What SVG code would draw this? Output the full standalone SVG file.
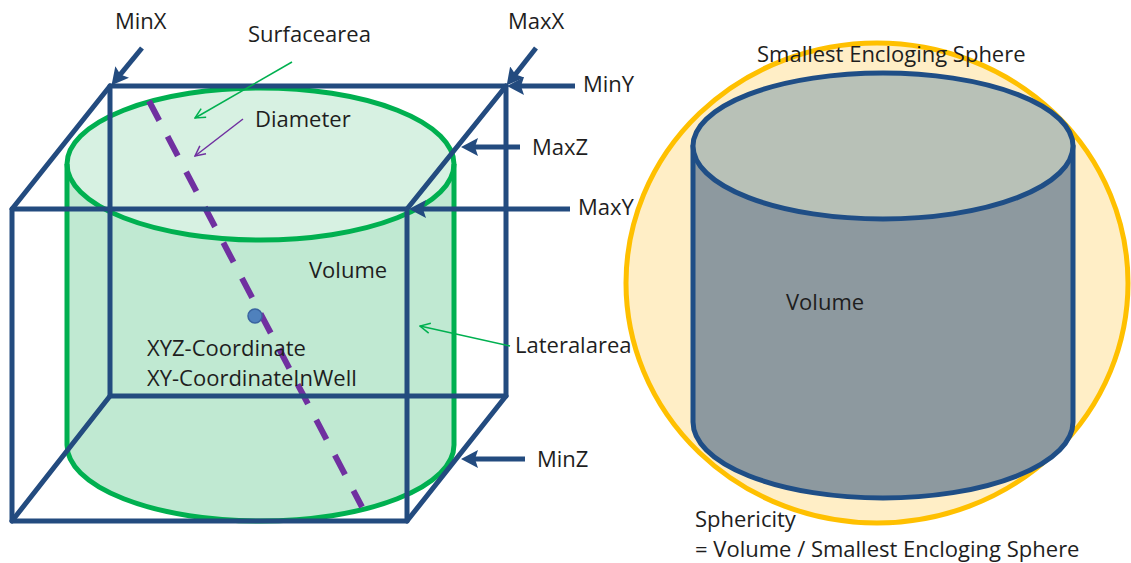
<svg xmlns="http://www.w3.org/2000/svg" width="1131" height="563" viewBox="0 0 1131 563">
  <style>
    text { font-family: "Open Sans", "Liberation Sans", sans-serif; font-size: 22px; fill: #1e1e1e; }
    .box { fill: none; stroke: #234b7f; stroke-width: 5; stroke-linecap: round; stroke-linejoin: round; }
    .lim { fill: none; stroke: #234b7f; stroke-width: 5; }
    .cyl { stroke: #00b050; stroke-width: 5; }
    .thin-g { fill: none; stroke: #00b050; stroke-width: 1.5; }
    .thin-p { fill: none; stroke: #7030a0; stroke-width: 1.5; }
    .diam { fill: none; stroke: #7030a0; stroke-width: 6; stroke-dasharray: 22 18; }
  </style>
  <defs>
    <marker id="headBlue" markerUnits="userSpaceOnUse" markerWidth="17" markerHeight="18" refX="6" refY="9" orient="auto">
      <path d="M0,0 L17,9 L0,18 L3,9 Z" fill="#234b7f"/>
    </marker>
    <marker id="headGreen" markerUnits="userSpaceOnUse" markerWidth="12" markerHeight="12" refX="11" refY="6" orient="auto">
      <path d="M1,1 L11,6 L1,11" fill="none" stroke="#00b050" stroke-width="1.5"/>
    </marker>
    <marker id="headPurple" markerUnits="userSpaceOnUse" markerWidth="12" markerHeight="12" refX="11" refY="6" orient="auto">
      <path d="M1,1 L11,6 L1,11" fill="none" stroke="#7030a0" stroke-width="1.5"/>
    </marker>
  </defs>

  <!-- left: cylinder inside its bounding box -->
  <g id="cylinder-left">
    <path d="M67,164 L67,445 A193.5,76 0 0 0 454,445 L454,164 Z" fill="#c0e9d2"/>
    <ellipse cx="260.5" cy="164" rx="193.5" ry="76" fill="#d7f1e2"/>
    <path class="cyl" fill="none" d="M67,164 L67,445 A193.5,76 0 0 0 454,445 L454,164"/>
    <ellipse class="cyl" fill="none" cx="260.5" cy="164" rx="193.5" ry="76"/>
  </g>

  <g id="diameter-line">
    <line class="diam" x1="149" y1="101" x2="362" y2="507"/>
  </g>

  <g id="centroid">
    <circle cx="255" cy="316" r="7" fill="#4f81bd" stroke="#3a64a0" stroke-width="1.5"/>
  </g>

  <g id="bounding-box">
    <rect class="box" x="110" y="86" width="396" height="310"/>
    <rect class="box" x="12" y="209" width="395" height="312"/>
    <line class="box" x1="12" y1="209" x2="110" y2="86"/>
    <line class="box" x1="407" y1="209" x2="506" y2="86"/>
    <line class="box" x1="12" y1="521" x2="110" y2="396"/>
    <line class="box" x1="407" y1="521" x2="506" y2="396"/>
  </g>

  <!-- connectors: limit arrows and label pointers -->
  <g id="connectors">
    <line class="lim" x1="142" y1="48" x2="118.5" y2="76.7" marker-end="url(#headBlue)"/>
    <line class="lim" x1="536" y1="48" x2="513.5" y2="76.7" marker-end="url(#headBlue)"/>
    <line class="lim" x1="575" y1="86" x2="518" y2="86" marker-end="url(#headBlue)"/>
    <line class="lim" x1="520" y1="147" x2="472" y2="147" marker-end="url(#headBlue)"/>
    <line class="lim" x1="570" y1="209" x2="420" y2="209" marker-end="url(#headBlue)"/>
    <line class="lim" x1="525" y1="459" x2="472" y2="459" marker-end="url(#headBlue)"/>
    <line class="thin-g" x1="292" y1="62" x2="195" y2="118" marker-end="url(#headGreen)"/>
    <line class="thin-p" x1="243" y1="119" x2="195" y2="156" marker-end="url(#headPurple)"/>
    <line class="thin-g" x1="510" y1="346" x2="420" y2="326" marker-end="url(#headGreen)"/>
  </g>

  <g id="labels-left">
    <text x="115" y="29">MinX</text>
    <text x="248" y="42">Surfacearea</text>
    <text x="508" y="29">MaxX</text>
    <text x="583" y="92">MinY</text>
    <text x="255" y="127">Diameter</text>
    <text x="532" y="155">MaxZ</text>
    <text x="578" y="215">MaxY</text>
    <text x="309" y="278">Volume</text>
    <text x="147" y="356">XYZ-Coordinate</text>
    <text x="147" y="386">XY-CoordinateInWell</text>
    <text x="515" y="353">Lateralarea</text>
    <text x="537" y="467">MinZ</text>
  </g>

  <!-- right: cylinder inside its enclosing sphere -->
  <g id="sphere">
    <ellipse cx="877" cy="283" rx="251" ry="240" fill="#ffeec6" stroke="#ffc000" stroke-width="5"/>
  </g>

  <g id="cylinder-right">
    <path d="M693,146 L693,422 A190,76 0 0 0 1073,422 L1073,146 Z" fill="#8d999f" stroke="#1f4e86" stroke-width="5" stroke-linejoin="round"/>
    <ellipse cx="883" cy="146" rx="190" ry="73" fill="#b8c1b7" stroke="#1f4e86" stroke-width="5"/>
  </g>

  <g id="labels-right">
    <text x="757" y="62">Smallest Encloging Sphere</text>
    <text x="786" y="310">Volume</text>
    <text x="695" y="527">Sphericity</text>
    <text x="695" y="557">= Volume / Smallest Encloging Sphere</text>
  </g>
</svg>
